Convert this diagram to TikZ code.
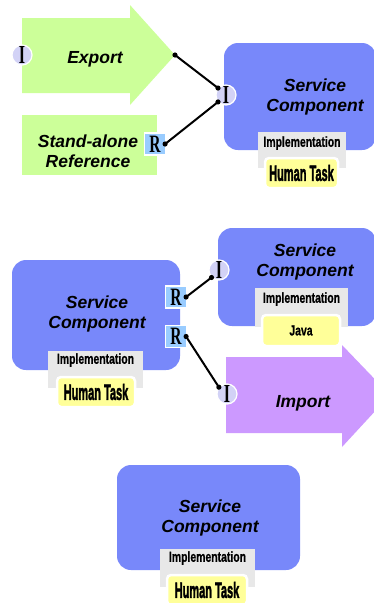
\documentclass[tikz,border=0pt]{standalone}
\usepackage{fontspec}
\usepackage{graphicx}
\setmainfont{Liberation Sans}
\newfontfamily\letterfont{Liberation Serif}
\newfontfamily\heavyfont[FakeBold=2.5]{Liberation Sans Bold}
\newfontfamily\semiheavyfont[FakeBold=0.8]{Liberation Sans Bold}
\definecolor{scblue}{RGB}{120,136,250}
\definecolor{expgreen}{RGB}{204,255,153}
\definecolor{imppurple}{RGB}{204,153,255}
\definecolor{implgray}{RGB}{232,232,232}
\definecolor{implyellow}{RGB}{255,255,153}
\definecolor{refblue}{RGB}{153,204,255}
\definecolor{ifclav}{RGB}{210,210,246}
\newcommand{\implname}[1]{\scalebox{0.72}[1]{\fontsize{14.5}{14.5}\semiheavyfont #1}}
\newcommand{\implkind}[1]{\scalebox{0.5}[1]{\fontsize{22}{22}\heavyfont #1}}
\newcommand{\ifcletter}[1]{\scalebox{0.62}[1]{#1}}
\begin{document}
\begin{tikzpicture}[x=1pt,y=-1pt,
  label/.style={font=\fontsize{17.5}{20}\selectfont\bfseries\itshape, align=center, inner sep=0pt},
  scbox/.style={fill=scblue, rounded corners=14pt, minimum width=#1, inner sep=0pt},
  graybox/.style={fill=implgray, inner sep=0pt},
  yellowbox/.style={fill=implyellow, draw=white, line width=2.5pt, rounded corners=4pt, inner sep=0pt},
  ifc/.style={circle, fill=ifclav, draw=white, line width=1.2pt, minimum size=20pt, inner sep=0pt,
    font=\letterfont\bfseries\fontsize{26}{26}\selectfont},
  refbox/.style={fill=refblue, draw=white, line width=1.2pt, minimum width=21pt, minimum height=22pt, inner sep=0pt,
    font=\letterfont\bfseries\fontsize{25}{25}\selectfont},
  wire/.style={line width=2pt, black},
  dot/.style={fill=black}
]
\useasboundingbox (0,0) rectangle (374,603);

% ---------- top: export and stand-alone reference wired to a component ----------
\coordinate (exptip) at (175,55);
\fill[expgreen] (22,18) -- (130,18) -- (130,5) -- (exptip) -- (130,105) -- (130,93) -- (22,93) -- cycle;
\node[label] (exportlbl) at (95,59) {Export};
\node[ifc] (Iexp) at (22,55) {\ifcletter{I}};

\node[fill=expgreen, minimum width=135pt, minimum height=60pt, inner sep=0pt] (sabox) at (89.5,144.5) {};
\node[label] (salbl) at (88,151) {Stand-alone\\Reference};
\node[refbox] (Rsa) at (155,144) {\ifcletter{R}};

\node[scbox=152pt, minimum height=107pt] (sc1) at (300,96.5) {};
\node[label] (sc1lbl) at (315,97) {Service\\Component};
\node[graybox, minimum width=88pt, minimum height=36pt] (impl1) at (302,150) {};
\node (impl1lbl) at (302,143) {\implname{Implementation}};
\node[yellowbox, minimum width=73pt, minimum height=30pt] (kind1) at (301.5,173) {\implkind{Human Task}};
\node[ifc] (Isc1) at (226,95) {\ifcletter{I}};

\draw[wire] (exptip) -- (Isc1.139);
\draw[wire] ([xshift=-1pt]Rsa.east) -- (Isc1.221);
\fill[dot] (exptip) circle (2.6pt);
\fill[dot] (Isc1.139) circle (2.6pt);
\fill[dot] (Isc1.221) circle (2.6pt);
\fill[dot] ([xshift=-1pt]Rsa.east) circle (2.6pt);

% ---------- middle: component with two references ----------
\coordinate (imptip) at (390,395);
\fill[imppurple] (226,357) -- (342,357) -- (342,345) -- (imptip) -- (342,447) -- (342,433) -- (226,433) -- cycle;
\node[label] (importlbl) at (303,403) {Import};
\node[ifc] (Iimp) at (227,394) {\ifcletter{I}};

\node[scbox=168pt, minimum height=110pt] (sc2) at (96,315) {};
\node[label] (sc2lbl) at (97,314) {Service\\Component};
\node[graybox, minimum width=95pt, minimum height=37pt] (impl2) at (95.5,369.5) {};
\node (impl2lbl) at (95.5,360) {\implname{Implementation}};
\node[yellowbox, minimum width=78pt, minimum height=30pt] (kind2) at (96,392) {\implkind{Human Task}};
\node[refbox] (Rsc2a) at (176,297) {\ifcletter{R}};
\node[refbox] (Rsc2b) at (176,336.5) {\ifcletter{R}};

\node[scbox=158pt, minimum height=98pt] (sc3) at (297,277) {};
\node[label] (sc3lbl) at (305,262) {Service\\Component};
\node[graybox, minimum width=93pt, minimum height=39pt] (impl3) at (301.5,307.5) {};
\node (impl3lbl) at (301.5,299) {\implname{Implementation}};
\node[yellowbox, minimum width=78pt, minimum height=31pt] (kind3) at (301,330.5) {\implname{Java}};
\node[ifc] (Isc3) at (219,270) {\ifcletter{I}};

\draw[wire] ([xshift=-1pt]Rsc2a.east) -- (Isc3.225);
\draw[wire] ([xshift=-1pt]Rsc2b.east) -- (Iimp.140);
\fill[dot] ([xshift=-1pt]Rsc2a.east) circle (2.6pt);
\fill[dot] (Isc3.225) circle (2.6pt);
\fill[dot] ([xshift=-1pt]Rsc2b.east) circle (2.6pt);
\fill[dot] (Iimp.140) circle (2.6pt);

% ---------- bottom: stand-alone component ----------
\node[scbox=183pt, minimum height=105pt] (sc4) at (208.5,517.5) {};
\node[label] (sc4lbl) at (210,518) {Service\\Component};
\node[graybox, minimum width=95pt, minimum height=38pt] (impl4) at (207.5,568) {};
\node (impl4lbl) at (207.5,558) {\implname{Implementation}};
\node[yellowbox, minimum width=80pt, minimum height=30pt] (kind4) at (207,590) {\implkind{Human Task}};
\end{tikzpicture}
\end{document}
